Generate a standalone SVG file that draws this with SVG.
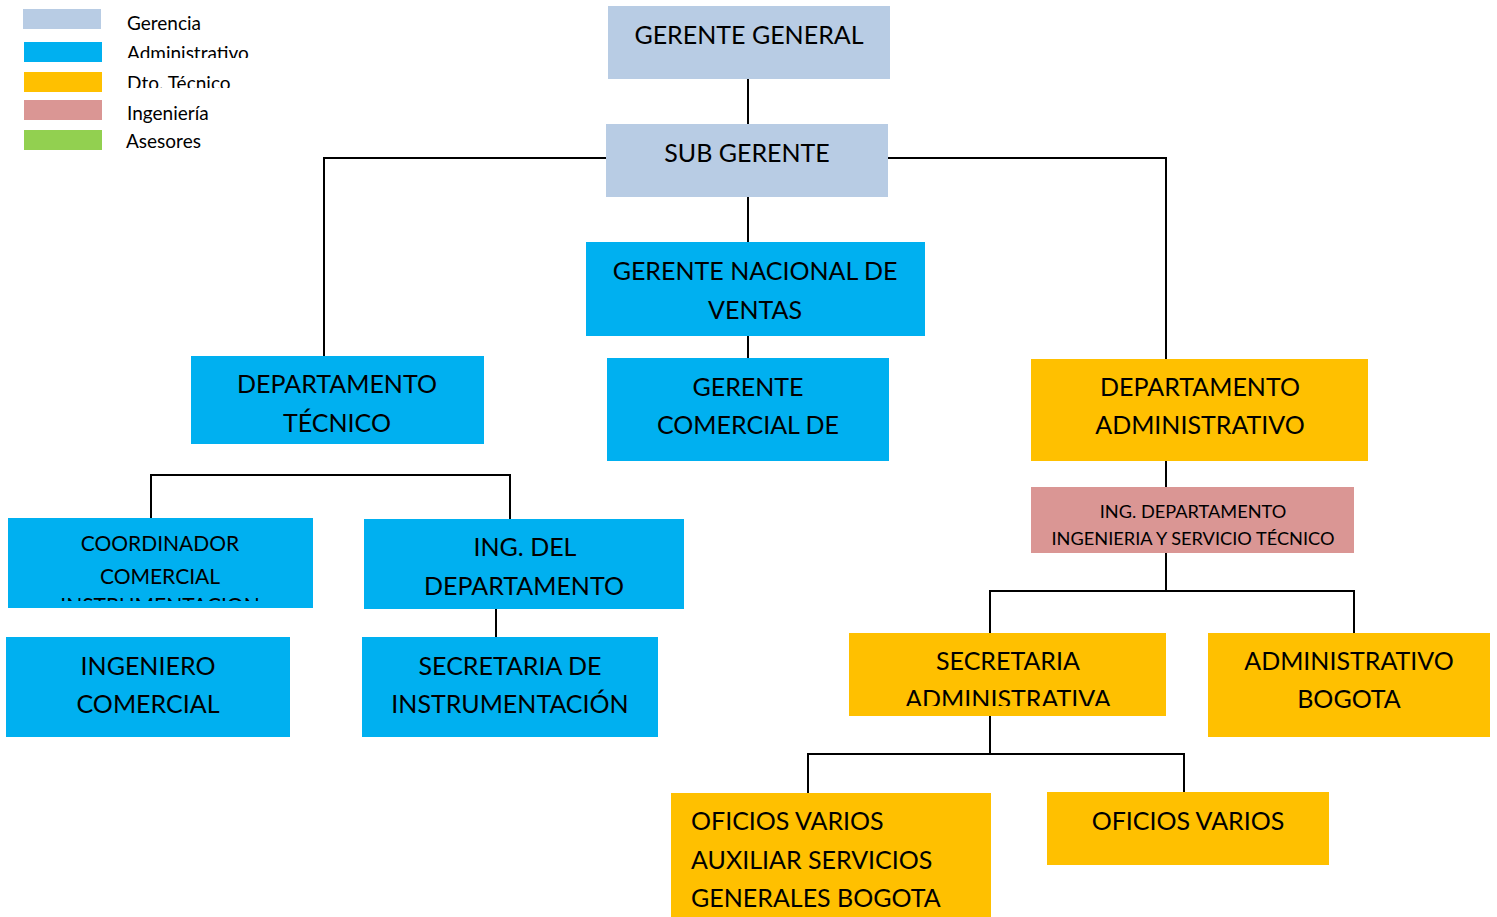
<svg xmlns="http://www.w3.org/2000/svg" width="1497" height="917" viewBox="0 0 1497 917">
<style>
.g{fill:#B8CCE4}.b{fill:#00B0F0}.y{fill:#FFC000}.p{fill:#DA9694}.gr{fill:#92D050}
text{font-family:Lato,"Liberation Sans",sans-serif;fill:#000}
.t{font-size:25px;text-anchor:middle}
.m{font-size:21px;text-anchor:middle}
.s{font-size:18.2px;text-anchor:middle}
.l{font-size:19px}
.c line{stroke:#000;stroke-width:2}
</style>
<defs>
<clipPath id="cl1"><rect x="120" y="38" width="200" height="20"/></clipPath>
<clipPath id="cl2"><rect x="120" y="68" width="200" height="20"/></clipPath>
<clipPath id="cl3"><rect x="8" y="518" width="305" height="83"/></clipPath>
<clipPath id="cl4"><rect x="849" y="633" width="317" height="73"/></clipPath>
</defs>
<g id="legend">
<rect class="g" x="23" y="9" width="78" height="20"/>
<rect class="b" x="24" y="42" width="78" height="20"/>
<rect class="y" x="24" y="72" width="78" height="20"/>
<rect class="p" x="24" y="100" width="78" height="20"/>
<rect class="gr" x="24" y="130" width="78" height="20"/>
<text class="l" x="127" y="30">Gerencia</text>
<text class="l" x="127" y="60" clip-path="url(#cl1)">Administrativo</text>
<text class="l" x="127" y="90" clip-path="url(#cl2)">Dto. Técnico</text>
<text class="l" x="127" y="120">Ingeniería</text>
<text class="l" x="126" y="148">Asesores</text>
</g>
<g class="c" id="connectors">
<line x1="748" y1="79" x2="748" y2="124"/>
<line x1="324" y1="158" x2="606" y2="158"/>
<line x1="324" y1="157" x2="324" y2="356"/>
<line x1="888" y1="158" x2="1167" y2="158"/>
<line x1="1166" y1="157" x2="1166" y2="359"/>
<line x1="748" y1="197" x2="748" y2="242"/>
<line x1="748" y1="336" x2="748" y2="358"/>
<line x1="150" y1="475" x2="511" y2="475"/>
<line x1="151" y1="474" x2="151" y2="518"/>
<line x1="510" y1="474" x2="510" y2="519"/>
<line x1="496" y1="609" x2="496" y2="637"/>
<line x1="1166" y1="461" x2="1166" y2="487"/>
<line x1="1166" y1="553" x2="1166" y2="591"/>
<line x1="989" y1="591" x2="1355" y2="591"/>
<line x1="990" y1="590" x2="990" y2="633"/>
<line x1="1354" y1="590" x2="1354" y2="633"/>
<line x1="990" y1="716" x2="990" y2="754"/>
<line x1="807" y1="754" x2="1185" y2="754"/>
<line x1="808" y1="753" x2="808" y2="793"/>
<line x1="1184" y1="753" x2="1184" y2="792"/>
</g>
<g id="gerente-general">
<rect class="g" x="608" y="6" width="282" height="73"/>
<text class="t" x="749" y="44">GERENTE GENERAL</text>
</g>
<g id="sub-gerente">
<rect class="g" x="606" y="124" width="282" height="73"/>
<text class="t" x="747" y="162">SUB GERENTE</text>
</g>
<g id="gerente-nacional">
<rect class="b" x="586" y="242" width="339" height="94"/>
<text class="t" x="755" y="280">GERENTE NACIONAL DE</text>
<text class="t" x="755" y="319">VENTAS</text>
</g>
<g id="dept-tecnico">
<rect class="b" x="191" y="356" width="293" height="88"/>
<text class="t" x="337" y="393">DEPARTAMENTO</text>
<text class="t" x="337" y="432">TÉCNICO</text>
</g>
<g id="gerente-comercial">
<rect class="b" x="607" y="358" width="282" height="103"/>
<text class="t" x="748" y="396">GERENTE</text>
<text class="t" x="748" y="434">COMERCIAL DE</text>
</g>
<g id="dept-administrativo">
<rect class="y" x="1031" y="359" width="337" height="102"/>
<text class="t" x="1200" y="396">DEPARTAMENTO</text>
<text class="t" x="1200" y="434">ADMINISTRATIVO</text>
</g>
<g id="ing-departamento">
<rect class="p" x="1031" y="487" width="323" height="66"/>
<text class="s" x="1193" y="518">ING. DEPARTAMENTO</text>
<text class="s" x="1193" y="545">INGENIERIA Y SERVICIO TÉCNICO</text>
</g>
<g id="coordinador">
<rect class="b" x="8" y="518" width="305" height="90"/>
<g clip-path="url(#cl3)">
<text class="m" x="160" y="551">COORDINADOR</text>
<text class="m" x="160" y="584">COMERCIAL</text>
<text class="m" x="160" y="613">INSTRUMENTACION</text>
</g>
</g>
<g id="ing-del-departamento">
<rect class="b" x="364" y="519" width="320" height="90"/>
<text class="t" x="525" y="556">ING. DEL</text>
<text class="t" x="524" y="595">DEPARTAMENTO</text>
</g>
<g id="ingeniero-comercial">
<rect class="b" x="6" y="637" width="284" height="100"/>
<text class="t" x="148" y="675">INGENIERO</text>
<text class="t" x="148" y="713">COMERCIAL</text>
</g>
<g id="secretaria-instrumentacion">
<rect class="b" x="362" y="637" width="296" height="100"/>
<text class="t" x="510" y="675">SECRETARIA DE</text>
<text class="t" x="510" y="713">INSTRUMENTACIÓN</text>
</g>
<g id="secretaria-administrativa">
<rect class="y" x="849" y="633" width="317" height="83"/>
<g clip-path="url(#cl4)">
<text class="t" x="1008" y="670">SECRETARIA</text>
<text class="t" x="1008" y="708">ADMINISTRATIVA</text>
</g>
</g>
<g id="administrativo-bogota">
<rect class="y" x="1208" y="633" width="282" height="104"/>
<text class="t" x="1349" y="670">ADMINISTRATIVO</text>
<text class="t" x="1349" y="708">BOGOTA</text>
</g>
<g id="oficios-varios-bogota">
<rect class="y" x="671" y="793" width="320" height="124"/>
<text class="t" x="691" y="830" style="text-anchor:start">OFICIOS VARIOS</text>
<text class="t" x="691" y="869" style="text-anchor:start">AUXILIAR SERVICIOS</text>
<text class="t" x="691" y="907" style="text-anchor:start">GENERALES BOGOTA</text>
</g>
<g id="oficios-varios">
<rect class="y" x="1047" y="792" width="282" height="73"/>
<text class="t" x="1188" y="830">OFICIOS VARIOS</text>
</g>
</svg>
